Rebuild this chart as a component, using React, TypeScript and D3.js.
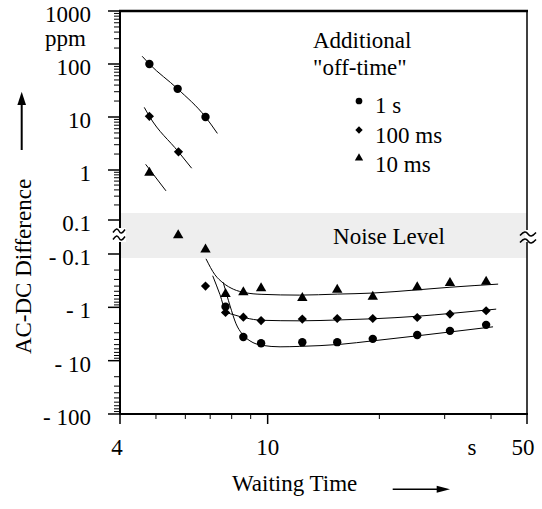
import React from 'react';
import * as d3 from 'd3';

// Waiting time (s) vs AC-DC difference (ppm)
const circlePts: [number, number][] = [
  [4.8, 100], [5.72, 34], [6.8, 10], [7.7, -0.97], [8.6, -3.6], [9.6, -4.7],
  [12.4, -4.5], [15.4, -4.5], [19.2, -3.9], [25.3, -3.3], [31, -2.76], [38.8, -2.13]
];
const diamondPts: [number, number][] = [
  [4.8, 10.3], [5.75, 2.2], [6.8, -0.4], [7.7, -1.25], [8.6, -1.53], [9.6, -1.77],
  [12.4, -1.66], [15.4, -1.62], [19.2, -1.62], [25.3, -1.55], [31, -1.34], [38.8, -1.16]
];
const trianglePts: [number, number][] = [
  [4.8, 0.88], [5.74, 0.011], [6.8, -0.074], [7.7, -0.56], [8.6, -0.52], [9.6, -0.44],
  [12.4, -0.67], [15.4, -0.47], [19.2, -0.63], [25.3, -0.42], [31, -0.35], [38.8, -0.33]
];

// fitted curves (upper and lower branches)
const circleFitUp: [number, number][] = [[4.59, 140], [4.8, 100], [5.72, 34], [6.8, 10], [7.32, 4.9]];
const diamondFitUp: [number, number][] = [[4.65, 15.2], [4.8, 10.3], [5.75, 2.2], [6.24, 1.08]];
const triangleFitUp: [number, number][] = [[4.69, 1.28], [5.32, 0.383]];
const circleFitLow: [number, number][] = [
  [7.59, -0.34], [7.92, -0.94], [8.22, -2.04], [8.53, -3.14], [8.96, -4.25], [9.66, -5.16],
  [10.8, -5.5], [12.2, -5.4], [15.7, -4.94], [19.2, -4.25], [25.3, -3.42], [31.2, -2.88], [40.5, -2.32]
];
const diamondFitLow: [number, number][] = [
  [7.11, -0.256], [7.44, -0.58], [7.72, -1.2], [8.17, -1.4], [8.69, -1.57], [9.66, -1.75],
  [12.2, -1.79], [15.7, -1.72], [19.2, -1.64], [25.3, -1.47], [31.2, -1.3], [41.3, -1.08]
];
const triangleFitLow: [number, number][] = [
  [6.82, -0.123], [7.21, -0.245], [7.59, -0.35], [8.1, -0.46], [8.69, -0.53], [9.6, -0.57],
  [12.2, -0.59], [15.4, -0.565], [19.2, -0.54], [25.3, -0.47], [31, -0.42], [41.8, -0.367]
];

const legendLabels = ['1 s', '100 ms', '10 ms'];
const xMajor = [4, 10, 50];
const xMinor = [5, 6, 7, 8, 9, 20, 30, 40];
const yPosMajor = [1000, 100, 10, 1, 0.1];
const yNegMajor = [0.1, 1, 10, 100];

const W = 542;
const H = 509;
const FONT = "'Liberation Serif', 'DejaVu Serif', 'Times New Roman', Times, serif";

const x = d3.scaleLog().domain([4, 50]).range([120, 527]);
const yPos = d3.scaleLog().domain([0.1, 1, 1000]).range([220, 170, 11]);
const yNeg = d3.scaleLog().domain([0.1, 100]).range([254, 414]);
const yMid = d3.scaleLinear().domain([-0.1, 0.1]).range([254, 220]);
const y = (v: number) => (v >= 0.1 ? yPos(v) : v <= -0.1 ? yNeg(-v) : yMid(v));

const line = d3.line<[number, number]>()
  .x(d => x(d[0]))
  .y(d => y(d[1]))
  .curve(d3.curveMonotoneX);

const marker = (kind: string, cx: number, cy: number, s = 1) => {
  if (kind === 'circle') return <circle cx={cx} cy={cy} r={4.2 * s} fill="#000" />;
  if (kind === 'diamond') {
    const r = 4.6 * s;
    return <path d={`M${cx},${cy - r}L${cx + r},${cy}L${cx},${cy + r}L${cx - r},${cy}Z`} fill="#000" />;
  }
  const hw = 5.2 * s, h = 9 * s;
  return <path d={`M${cx},${cy - h * 2 / 3}L${cx + hw},${cy + h / 3}L${cx - hw},${cy + h / 3}Z`} fill="#000" />;
};

const wave = (cx: number, cy: number, hw: number) =>
  `M${cx - hw},${cy + 1.5} C${cx - hw / 2},${cy - 3} ${cx - hw / 4},${cy - 3} ${cx},${cy} S${cx + hw / 2},${cy + 3} ${cx + hw},${cy - 1.5}`;

export default function App() {
  const yMinorPos: number[] = [];
  [0.1, 1, 10, 100].forEach(d => { for (let k = 2; k <= 9; k++) yMinorPos.push(k * d); });
  const yMinorNeg: number[] = [];
  [0.1, 1, 10].forEach(d => { for (let k = 2; k <= 9; k++) yMinorNeg.push(k * d); });

  const left = x(4), right = x(50), top = yPos(1000), bottom = yNeg(100);
  const series = [
    { kind: 'circle', pts: circlePts, fits: [circleFitUp, circleFitLow] },
    { kind: 'diamond', pts: diamondPts, fits: [diamondFitUp, diamondFitLow] },
    { kind: 'triangle', pts: trianglePts, fits: [triangleFitUp, triangleFitLow] },
  ];

  return (
    <svg width={W} height={H} style={{ position: 'absolute', left: 0, top: 0, background: '#fff', fontFamily: FONT }}
      fontSize={23}>
      {/* noise band */}
      <rect x={left} y={213} width={right - left} height={45} fill="#eeeeee" />
      <text x={389} y={244} textAnchor="middle">Noise Level</text>

      {/* frame */}
      <line x1={left - 1} x2={right + 1} y1={top} y2={top} stroke="#000" strokeWidth={2.5} />
      <line x1={right} x2={right} y1={top} y2={bottom} stroke="#000" strokeWidth={1.5} />
      <line x1={left - 1} x2={right + 1} y1={bottom} y2={bottom} stroke="#000" strokeWidth={2} />
      <line x1={left} x2={left} y1={top} y2={bottom} stroke="#000" strokeWidth={2} />

      {/* y ticks */}
      {yPosMajor.map(v => <line key={'pm' + v} x1={left - 12} x2={left} y1={yPos(v)} y2={yPos(v)} stroke="#000" strokeWidth={1.5} />)}
      {yNegMajor.map(v => <line key={'nm' + v} x1={left - 12} x2={left} y1={yNeg(v)} y2={yNeg(v)} stroke="#000" strokeWidth={1.5} />)}
      {yMinorPos.map(v => <line key={'pn' + v} x1={left - 6} x2={left} y1={yPos(v)} y2={yPos(v)} stroke="#000" strokeWidth={1} />)}
      {yMinorNeg.map(v => <line key={'nn' + v} x1={left - 6} x2={left} y1={yNeg(v)} y2={yNeg(v)} stroke="#000" strokeWidth={1} />)}
      {yPosMajor.map(v => <text key={'pl' + v} x={91} y={yPos(v) + 11} textAnchor="end">{String(v)}</text>)}
      {yNegMajor.map(v => <text key={'nl' + v} x={91} y={yNeg(v) + 11} textAnchor="end">{'- ' + v}</text>)}
      <text x={45} y={46}>ppm</text>

      {/* x ticks */}
      {xMajor.map(v => <line key={'xm' + v} x1={x(v)} x2={x(v)} y1={bottom} y2={bottom + 10} stroke="#000" strokeWidth={1.5} />)}
      {xMinor.map(v => <line key={'xn' + v} x1={x(v)} x2={x(v)} y1={bottom} y2={bottom + 5} stroke="#000" strokeWidth={1} />)}
      {xMajor.map((v, i) => (
        <text key={'xl' + v} x={x(v) + [-3, 0, -4][i]} y={455} textAnchor="middle">{String(v)}</text>
      ))}
      <text x={472} y={455} textAnchor="middle">s</text>

      {/* axis breaks */}
      <rect x={left - 8} y={228} width={14} height={14} fill="#fff" />
      <path d={wave(left - 1, 231, 6)} fill="none" stroke="#000" strokeWidth={1.5} />
      <path d={wave(left - 1, 238, 6)} fill="none" stroke="#000" strokeWidth={1.5} />
      <rect x={right - 2} y={230} width={4} height={12} fill="#fff" />
      <path d={wave(right + 1, 234, 8)} fill="none" stroke="#000" strokeWidth={1.5} />
      <path d={wave(right + 1, 241, 8)} fill="none" stroke="#000" strokeWidth={1.5} />

      {/* fits and points */}
      {series.map(s => (
        <g key={s.kind}>
          {s.fits.map((f, i) => <path key={i} d={line(f) || ''} fill="none" stroke="#000" strokeWidth={1} />)}
          {s.pts.map((p, i) => <g key={i}>{marker(s.kind, x(p[0]), y(p[1]))}</g>)}
        </g>
      ))}

      {/* legend */}
      <text x={313} y={48}>Additional</text>
      <text x={313} y={75}>"off-time"</text>
      {series.map((s, i) => (
        <g key={'lg' + i}>
          {marker(s.kind, 359, [101, 130, 158][i], 0.8)}
          <text x={375} y={[113, 143, 171.5][i]}>{legendLabels[i]}</text>
        </g>
      ))}

      {/* axis titles */}
      <text transform="translate(31,266.5) rotate(-90)" textAnchor="middle">AC-DC Difference</text>
      <line x1={21.7} x2={21.7} y1={150} y2={100} stroke="#000" strokeWidth={2} />
      <path d="M21.7,91.7L26,105L17.4,105Z" fill="#000" />
      <text x={232} y={491}>Waiting Time</text>
      <line x1={392.7} x2={440} y1={489.3} y2={489.3} stroke="#000" strokeWidth={1.5} />
      <path d="M450,489.3L436.7,485.8L436.7,492.8Z" fill="#000" />
    </svg>
  );
}
